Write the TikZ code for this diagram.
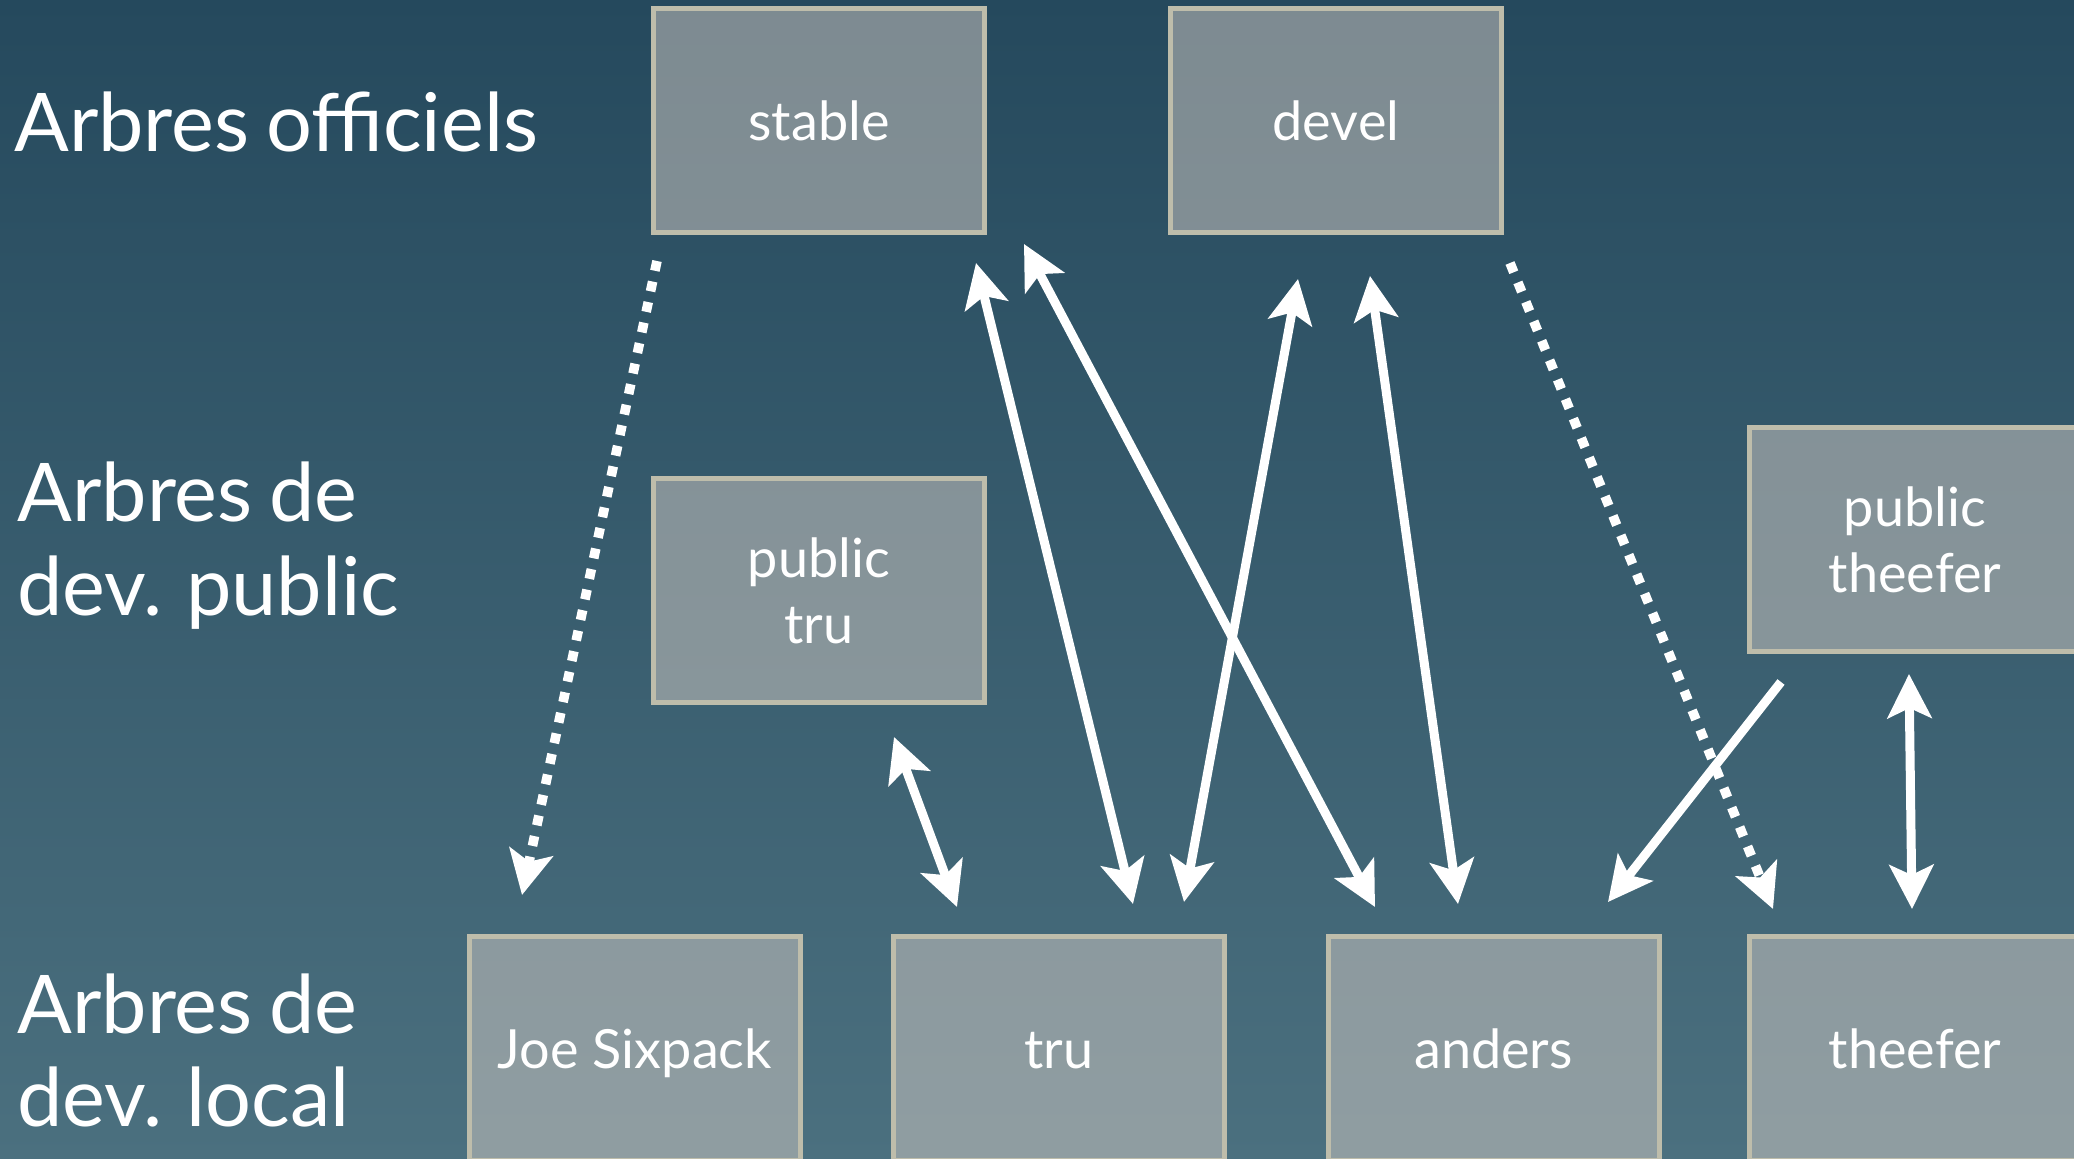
\documentclass[tikz,border=0pt]{standalone}
\usepackage{fontspec}
\setmainfont{Lato}
\newfontfamily\lblfont{Lato}[WordSpace=0.8]
\usetikzlibrary{arrows.meta,calc}
\definecolor{bgtop}{RGB}{37,73,93}
\definecolor{bgbot}{RGB}{75,112,127}
\definecolor{boxfill}{RGB}{205,198,193}
\definecolor{boxline}{RGB}{190,189,171}
\begin{document}
\begin{tikzpicture}[x=0.5pt,y=-0.5pt,
  >={Stealth[length=22pt,width=22pt,inset=5pt]},
  tree/.style={draw=boxline, line width=2.5pt, fill=boxfill, fill opacity=0.53,
    text opacity=1, text=white, minimum width=165.5pt, minimum height=112pt,
    inner sep=0pt, font=\fontsize{27}{33}\selectfont},
  oneline/.style={text height=20pt, text depth=0pt},
  lbl/.style={text=white, font=\lblfont\fontsize{40.5}{47}\selectfont, inner sep=0pt, align=left},
  link/.style={draw=white, line width=4.5pt},
  dots/.style={draw=white, line width=4.8pt, dash pattern=on 5pt off 5.5pt}]
\shade[top color=bgtop, bottom color=bgbot] (0,0) rectangle (2074,1159);
\useasboundingbox (0,0) rectangle (2074,1159);

% labels (base anchor = baseline of the last line)
\node[lbl, anchor=base west] (l1) at (14,152) {Arbres officiels};
\node[lbl, anchor=base west] (l2) at (17,616) {Arbres de\\dev. public};
\node[lbl, anchor=base west] (l3) at (17,1127) {Arbres de\\dev. local};

% trees
\node[tree,oneline] (stable) at (819,120.5) {stable};
\node[tree,oneline] (devel) at (1336,120.5) {devel};
\node[tree,align=center] (ptru) at (819,590.5) {public\\tru};
\node[tree,align=center] (pthe) at (1915,539.5) {public\\theefer};
\node[tree,oneline] (joe) at (635,1048.5) {Joe Sixpack};
\node[tree,oneline] (tru) at (1059,1048.5) {tru};
\node[tree,oneline] (anders) at (1493.5,1048.5) {anders};
\node[tree,oneline] (thee) at (1915,1048.5) {theefer};

% connectors
\draw[dots,->] ($(stable.south)+(-162,26)$) -- ($(joe.north)+(-113,-39)$);
\draw[link,<->] ($(stable.south)+(157,28)$) -- ($(tru.north)+(74,-30)$);
\draw[link,<->] ($(stable.south)+(205,9)$) -- ($(anders.north)+(-118.5,-27)$);
\draw[link,<->] ($(devel.south)+(-38,44)$) -- ($(tru.north)+(125,-32)$);
\draw[link,<->] ($(devel.south)+(34,41)$) -- ($(anders.north)+(-35.5,-30)$);
\draw[dots,->] ($(devel.south)+(174,28)$) -- ($(thee.north)+(-142,-25)$);
\draw[link,->] ($(pthe.south)+(-134,28)$) -- ($(anders.north)+(114.5,-32)$);
\draw[link,<->] ($(pthe.south)+(-6,20)$) -- ($(thee.north)+(-3,-25)$);
\draw[link,<->] ($(ptru.south)+(75,32)$) -- ($(tru.north)+(-102,-27)$);
\end{tikzpicture}
\end{document}
